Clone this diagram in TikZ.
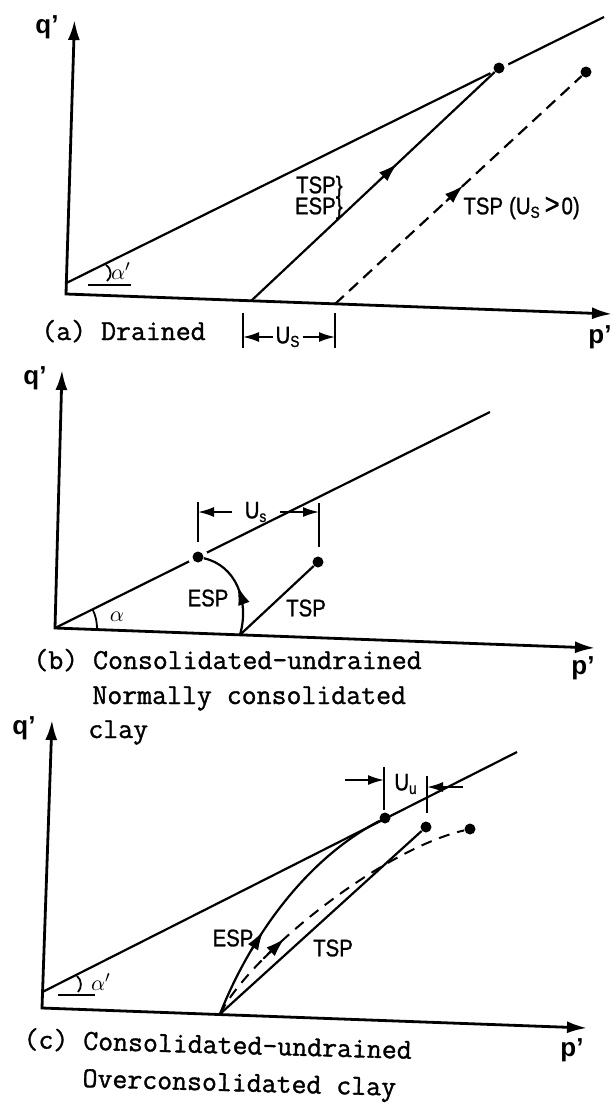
\documentclass[tikz,border=0pt]{standalone}
\usepackage{fontspec}
\newfontfamily\lblfont[FakeStretch=0.85,FakeBold=1]{Liberation Sans}
\newfontfamily\axfont{Liberation Sans}
\newfontfamily\capfont[FakeBold=1.2]{Latin Modern Mono}
\usetikzlibrary{arrows.meta}
\begin{document}
\begin{tikzpicture}[x=0.5pt,y=-0.5pt,
  axes/.style={line width=1.4pt, line join=miter,
    {Latex[length=10pt,width=6pt]}-{Latex[length=10pt,width=6pt]}},
  fline/.style={line width=1.1pt},
  spath/.style={line width=1.1pt},
  dpath/.style={line width=1.1pt, dash pattern=on 6pt off 3.6pt},
  dpathc/.style={line width=1pt, dash pattern=on 5.5pt off 4pt},
  thinl/.style={line width=0.9pt},
  tickl/.style={line width=0.8pt},
  dimarrow/.style={line width=0.9pt, -{Latex[length=8pt,width=5pt]}},
  tipmark/.style={line width=1pt, -{Latex[length=9.5pt,width=6pt]}},
  lbl/.style={font=\lblfont\fontsize{12}{14}\selectfont, inner sep=1pt},
  axlbl/.style={font=\axfont\bfseries\fontsize{13}{15}\selectfont, inner sep=0pt},
  alb/.style={font=\fontsize{11}{13}\selectfont, inner sep=0pt},
  captext/.style={font=\capfont\fontsize{14.5}{17.5}\selectfont, anchor=base west, inner sep=0pt},
  dot/.style={circle, fill=black, inner sep=0pt, minimum size=5.5pt},
  halo/.style={circle, fill=white, inner sep=0pt, minimum size=10pt}
]
\useasboundingbox (0,0) rectangle (613,1109);
\fill[white] (0,0) rectangle (613,1109);

% ---------------- Panel (a) ----------------
\coordinate (aO) at (66,294);
\coordinate (aQ) at (74.5,20);
\coordinate (aP) at (612,314);
\draw[axes] (aQ) -- (aO) -- (aP);
\node[axlbl] (aq) at (47,27) {q’};
\node[axlbl] (ap) at (600,337) {p’};

\coordinate (aF0) at (66.4,283);
\coordinate (aF1) at (604,17);
\draw[fline] (aF0) -- (aF1);
\node[halo] (aH) at (499,68) {};
\node[dot] (aE) at (499,68) {};
\node[dot] (aT) at (586,72) {};
\coordinate (aS1) at (251,301);
\coordinate (aS2) at (335,304);
\draw[spath] (aS1) -- (aE) coordinate[pos=0.53] (aM1) coordinate[pos=0.6] (aM2);
\draw[dpath] (aS2) -- (aT) coordinate[pos=0.45] (aN1) coordinate[pos=0.52] (aN2);
\draw[tipmark] (aM1) -- (aM2);
\draw[tipmark] (aN1) -- (aN2);

\draw[thinl] (106,265) .. controls (112,269) and (112,277) .. (107,281);
\draw[thinl] (88,285) -- (131,285);
\node[alb] (aal) at (121,271) {$\alpha'$};

\node[lbl, anchor=east] (aL1) at (345,187) {TSP\}};
\node[lbl, anchor=east] (aL2) at (345,208) {ESP\}};
\node[lbl, anchor=west] (aL3) at (461,208) {TSP\hspace{3pt}(U\textsubscript{S}\hspace{2pt}{\fontsize{15}{15}\selectfont >}\hspace{1pt}0)};

\coordinate (aK1a) at (243,313);
\coordinate (aK1b) at (243,348);
\coordinate (aK2a) at (335,313);
\coordinate (aK2b) at (335,348);
\draw[tickl] (aK1a) -- (aK1b);
\draw[tickl] (aK2a) -- (aK2b);
\node[lbl] (aUs) at (288,337) {U\textsubscript{S}};
\draw[dimarrow] (aUs.west) -- (aUs.west -| aK1a);
\draw[dimarrow] (aUs.east) -- (aUs.east -| aK2a);

\node[captext] (aCap) at (41,340) {(a) Drained};

% ---------------- Panel (b) ----------------
\coordinate (bO) at (55,628);
\coordinate (bQ) at (62,370);
\coordinate (bP) at (595,648);
\draw[axes] (bQ) -- (bO) -- (bP);
\node[axlbl] (bq) at (35,378) {q’};
\node[axlbl] (bp) at (583,668) {p’};

\coordinate (bF1) at (490,412);
\draw[fline] (bO) -- (bF1);
\node[halo] (bH) at (198,557) {};
\node[dot] (bE) at (198,557) {};
\node[dot] (bT) at (318,562) {};
\coordinate (bS) at (240,634.8);
\draw[spath] (bS) .. controls (250,600) and (235,565) .. (bE)
  coordinate[pos=0.4] (bM1) coordinate[pos=0.5] (bM2);
\draw[tipmark] (bM1) -- (bM2);
\draw[spath] (bS) -- (bT);

\draw[thinl] (92.6,609.3) .. controls (95.7,615.6) and (97.2,622.5) .. (97,629.5);
\node[alb] (bal) at (117,617) {$\alpha$};

\node[lbl] (bL1) at (208,598) {ESP};
\node[lbl] (bL2) at (306,608) {TSP};

\coordinate (bK1a) at (198,502);
\coordinate (bK1b) at (198,542);
\coordinate (bK2a) at (319,503);
\coordinate (bK2b) at (319,547);
\draw[tickl] (bK1a) -- (bK1b);
\draw[tickl] (bK2a) -- (bK2b);
\node[lbl, inner xsep=6pt] (bUs) at (256,512) {U\textsubscript{s}};
\draw[dimarrow] (bUs.west) -- (bUs.west -| bK1a);
\draw[dimarrow] (bUs.east) -- (bUs.east -| bK2a);

\node[captext] (bCap1) at (33,669) {(b) Consolidated-undrained};
\node[captext] (bCap2) at (92,704) {Normally consolidated};
\node[captext] (bCap3) at (88,738) {clay};

% ---------------- Panel (c) ----------------
\coordinate (cO) at (42,1008);
\coordinate (cQ) at (52,720);
\coordinate (cP) at (587,1028);
\draw[axes] (cQ) -- (cO) -- (cP);
\node[axlbl] (cq) at (24,728) {q’};
\node[axlbl] (cp) at (572,1050) {p’};

\coordinate (cF0) at (42.4,992);
\coordinate (cF1) at (517,752);
\draw[fline] (cF0) -- (cF1);
\node[dot] (cE) at (385,818) {};
\node[dot] (cT) at (426,827) {};
\node[dot] (cD) at (470,829) {};
\coordinate (cS) at (220,1014);
\draw[spath] (cS) .. controls (243,955) and (295,865) .. (cE)
  coordinate[pos=0.32] (cM1) coordinate[pos=0.41] (cM2);
\draw[dpathc] (cS) .. controls (250,955) and (380,850) .. (cD)
  coordinate[pos=0.27] (cN1) coordinate[pos=0.36] (cN2);
\draw[tipmark] (cM1) -- (cM2);
\draw[tipmark] (cN1) -- (cN2);
\draw[spath] (cS) -- (cT);

\draw[thinl] (77,976) .. controls (82,980) and (82,988) .. (78,992);
\draw[thinl] (58,995) -- (95,995);
\node[alb] (cal) at (101,982) {$\alpha'$};

\node[lbl] (cL1) at (233,938) {ESP};
\node[lbl] (cL2) at (333,948) {TSP};

\coordinate (cK1a) at (384,767);
\coordinate (cK1b) at (384,810);
\coordinate (cK2a) at (427,776);
\coordinate (cK2b) at (427,813);
\draw[tickl] (cK1a) -- (cK1b);
\draw[tickl] (cK2a) -- (cK2b);
\node[lbl] (cUu) at (406,784) {U\textsubscript{u}};
\coordinate (cA1) at (345,780);
\coordinate (cA2) at (463,787);
\draw[dimarrow] (cA1) -- (cA1 -| cK1a);
\draw[dimarrow] (cA2) -- (cA2 -| cK2a);

\node[captext, rotate=-1.6] (cCap1) at (23,1048) {(c) Consolidated-undrained};
\node[captext, rotate=-1.6] (cCap2) at (82,1087) {Overconsolidated clay};
\end{tikzpicture}
\end{document}
